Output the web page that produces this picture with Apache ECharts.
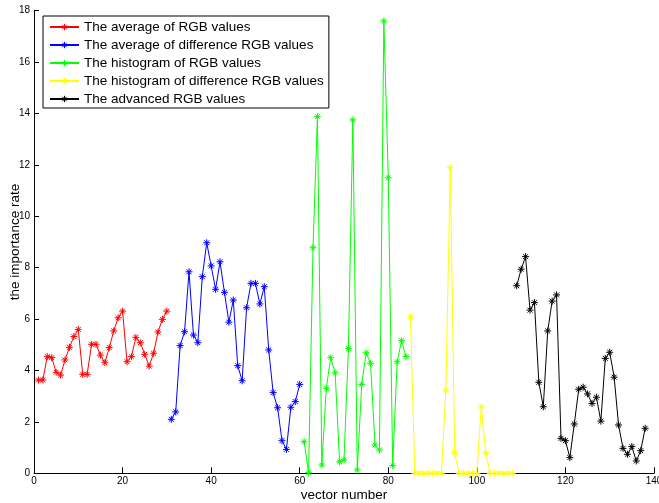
<!DOCTYPE html>
<html>
<head>
<meta charset="utf-8">
<script src="https://cdn.jsdelivr.net/npm/echarts@6/dist/echarts.min.js"></script>
<style>
html,body{margin:0;padding:0;background:#fff;}
#chart{width:659px;height:503px;}
</style>
</head>
<body>
<div id="chart"></div>
<script>
// Data
var seriesNames = [
  'The average of RGB values',
  'The average of difference RGB values',
  'The histogram of RGB values',
  'The histogram of difference RGB values',
  'The advanced RGB values'
];
var seriesColors = ['#ff0000', '#0000ff', '#00ff00', '#ffff00', '#000000'];
var startIndex = [1, 31, 61, 85, 109];

var avgRGB = [3.63, 3.63, 4.54, 4.50, 3.93, 3.82, 4.41, 4.90, 5.32, 5.60,
  3.85, 3.85, 5.02, 5.02, 4.60, 4.30, 4.89, 5.54, 6.05, 6.31,
  4.34, 4.54, 5.29, 5.08, 4.63, 4.17, 4.67, 5.50, 5.99, 6.31];
var avgDiffRGB = [2.10, 2.39, 4.97, 5.51, 7.84, 5.38, 5.08, 7.65, 8.97, 8.07,
  7.16, 8.23, 7.04, 5.88, 6.74, 4.19, 3.60, 6.44, 7.39, 7.39,
  6.59, 7.26, 4.80, 3.14, 2.55, 1.27, 0.93, 2.57, 2.79, 3.46];
var histRGB = [1.23, 0.02, 8.78, 13.88, 0.32, 3.31, 4.50, 3.91, 0.45, 0.52,
  4.86, 13.75, 0.13, 3.46, 4.69, 4.28, 1.10, 0.91, 17.60, 11.50,
  0.30, 4.34, 5.16, 4.54];
var histDiffRGB = [6.09, 0, 0, 0, 0, 0, 0, 0, 3.24, 11.90,
  0.80, 0, 0, 0, 0, 0, 2.59, 0.80, 0, 0,
  0, 0, 0, 0];
var advancedRGB = [7.30, 7.94, 8.43, 6.35, 6.64, 3.54, 2.59, 5.54, 6.70, 6.94,
  1.36, 1.27, 0.61, 1.92, 3.27, 3.35, 3.09, 2.72, 2.96, 2.03,
  4.47, 4.71, 3.74, 1.88, 0.97, 0.74, 1.04, 0.48, 0.88, 1.75];
var xTicks = [0, 20, 40, 60, 80, 100, 120, 140];
var yTicks = [0, 2, 4, 6, 8, 10, 12, 14, 16, 18];

var allValues = [avgRGB, avgDiffRGB, histRGB, histDiffRGB, advancedRGB];

var star = 'path://M0,-10L0,10M-10,0L10,0M-7,-7L7,7M-7,7L7,-7';

var chart = echarts.init(document.getElementById('chart'), null, {renderer: 'canvas'});
var font = 'Liberation Sans, Arial, Helvetica, sans-serif';

var series = allValues.map(function (vals, i) {
  return {
    name: seriesNames[i],
    type: 'line',
    data: vals.map(function (v, j) { return [startIndex[i] + j, v]; }),
    symbol: star,
    symbolSize: 7,
    showSymbol: true,
    lineStyle: {color: seriesColors[i], width: 1},
    itemStyle: {color: seriesColors[i], borderColor: seriesColors[i], borderWidth: 1},
    emphasis: {disabled: true},
    z: 2
  };
});

chart.setOption({
  animation: false,
  backgroundColor: '#ffffff',
  textStyle: {fontFamily: font},
  grid: {left: 34, right: 5, top: 10.7, bottom: 29.7, containLabel: false, outerBoundsMode: 'none'},
  legend: {
    orient: 'vertical',
    left: 43,
    top: 16,
    width: 290,
    padding: [4, 5, 2, 6],
    itemGap: 4,
    itemWidth: 29,
    itemHeight: 8,
    borderColor: '#000',
    borderWidth: 1,
    backgroundColor: '#fff',
    itemStyle: {borderWidth: 1},
    textStyle: {fontFamily: font, fontSize: 13.5, color: '#000', padding: [0, 0, 0, 0]},
    data: seriesNames.map(function (n) { return {name: n}; })
  },
  xAxis: {
    type: 'value',
    min: xTicks[0],
    max: xTicks[xTicks.length - 1],
    interval: 20,
    name: 'vector number',
    nameLocation: 'middle',
    nameGap: 15,
    nameMoveOverlap: false,
    nameTextStyle: {fontFamily: font, fontSize: 13.5, color: '#000'},
    axisLine: {lineStyle: {color: '#000', width: 1}},
    axisTick: {inside: true, length: 6, lineStyle: {color: '#000'}},
    axisLabel: {fontFamily: font, fontSize: 10, color: '#000', margin: 3},
    splitLine: {show: false}
  },
  yAxis: {
    type: 'value',
    min: yTicks[0],
    max: yTicks[yTicks.length - 1],
    interval: 2,
    name: 'the importance rate',
    nameLocation: 'middle',
    nameGap: 12,
    nameMoveOverlap: false,
    nameTextStyle: {fontFamily: font, fontSize: 13.5, color: '#000'},
    axisLine: {show: true, lineStyle: {color: '#000', width: 1}},
    axisTick: {show: true, inside: true, length: 5, lineStyle: {color: '#000'}},
    axisLabel: {fontFamily: font, fontSize: 10, color: '#000', margin: 4},
    splitLine: {show: false}
  },
  series: series
});
</script>
</body>
</html>
